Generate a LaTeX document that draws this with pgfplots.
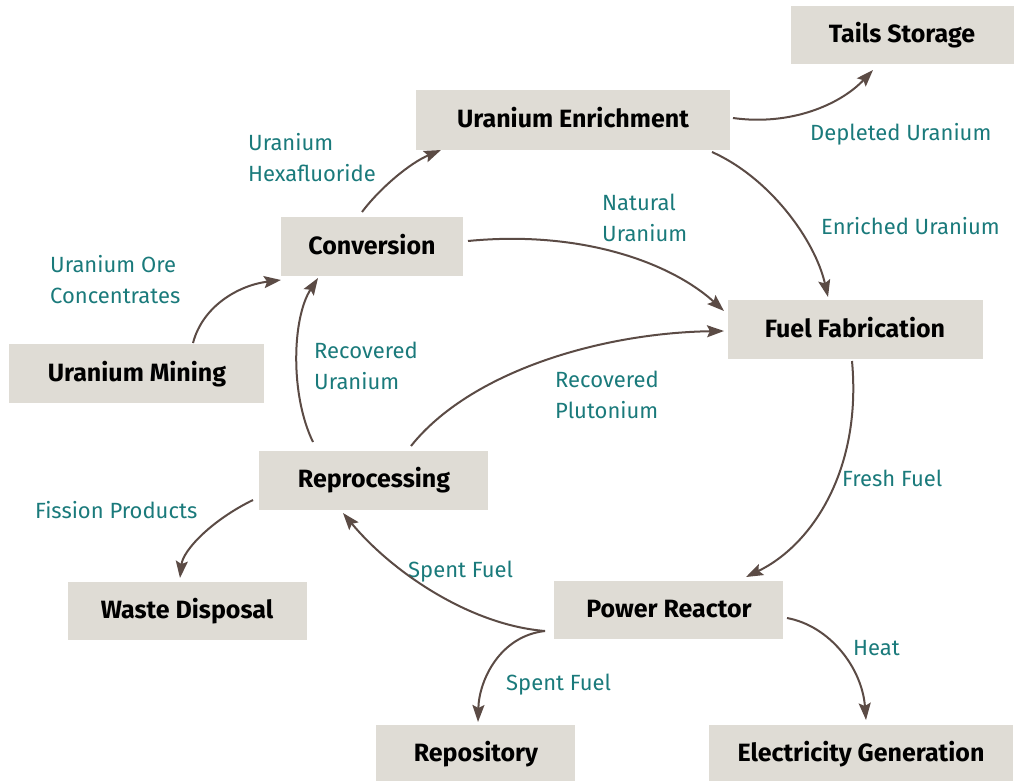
\documentclass[border=0pt]{standalone}
\usepackage{fontspec}
\setmainfont{Fira Sans}
\usepackage{pgfplots}
\pgfplotsset{compat=1.18}
\usetikzlibrary{arrows.meta}
\definecolor{boxfill}{HTML}{DFDCD5}
\definecolor{labteal}{HTML}{1A7A7B}
\definecolor{arr}{HTML}{5B4B45}
\tikzset{
  bx/.style={font=\fontsize{25}{29}\selectfont\bfseries, anchor=mid, inner sep=0pt, yshift=-5pt},
  lb/.style={font=\fontsize{22}{26}\selectfont, text=labteal, anchor=mid west, inner sep=0pt, yshift=-5pt},
  ar/.style={draw=arr, line width=2pt, -{Stealth[length=17pt,width=12pt,inset=3pt]}, arr},
}
\begin{document}
\begin{tikzpicture}
\begin{axis}[width=1014pt,height=781pt,scale only axis,
  xmin=0,xmax=1014,ymin=0,ymax=781,y dir=reverse,hide axis,clip=false]
\path (axis cs:0,0) rectangle (axis cs:1014,781);
% boxes
\fill[boxfill] (axis cs:791,6) rectangle (axis cs:1014,64);
\node[bx] at (axis cs:902,35) {Tails Storage};
\fill[boxfill] (axis cs:416,90) rectangle (axis cs:730,150);
\node[bx] at (axis cs:573,120) {Uranium Enrichment};
\fill[boxfill] (axis cs:281,217) rectangle (axis cs:463,276);
\node[bx] at (axis cs:372,247) {Conversion};
\fill[boxfill] (axis cs:728,300) rectangle (axis cs:983,359);
\node[bx] at (axis cs:855,330) {Fuel Fabrication};
\fill[boxfill] (axis cs:9,344) rectangle (axis cs:264,403);
\node[bx] at (axis cs:137,374) {Uranium Mining};
\fill[boxfill] (axis cs:259,451) rectangle (axis cs:488,510);
\node[bx] at (axis cs:374,480) {Reprocessing};
\fill[boxfill] (axis cs:68,582) rectangle (axis cs:307,640);
\node[bx] at (axis cs:187,611) {Waste Disposal};
\fill[boxfill] (axis cs:554,581) rectangle (axis cs:783,639);
\node[bx] at (axis cs:669,610) {Power Reactor};
\fill[boxfill] (axis cs:376,725) rectangle (axis cs:575,781);
\node[bx] at (axis cs:476,754) {Repository};
\fill[boxfill] (axis cs:709,725) rectangle (axis cs:1013,781);
\node[bx] at (axis cs:861,754) {Electricity Generation};
% labels
\node[lb] at (axis cs:248,143) {Uranium};
\node[lb] at (axis cs:248,174) {Hexafluoride};
\node[lb] at (axis cs:810,133) {Depleted Uranium};
\node[lb] at (axis cs:602,203) {Natural};
\node[lb] at (axis cs:602,234) {Uranium};
\node[lb] at (axis cs:821,227) {Enriched Uranium};
\node[lb] at (axis cs:50,265) {Uranium Ore};
\node[lb] at (axis cs:50,296) {Concentrates};
\node[lb] at (axis cs:314,351) {Recovered};
\node[lb] at (axis cs:314,382) {Uranium};
\node[lb] at (axis cs:555,380) {Recovered};
\node[lb] at (axis cs:555,411) {Plutonium};
\node[lb] at (axis cs:842,479) {Fresh Fuel};
\node[lb] at (axis cs:35,511) {Fission Products};
\node[lb] at (axis cs:408,570) {Spent Fuel};
\node[lb] at (axis cs:853,648) {Heat};
\node[lb] at (axis cs:506,683) {Spent Fuel};
% arrows
\draw[ar] (axis cs:193,343) .. controls (axis cs:203,305) and (axis cs:240,285) .. (axis cs:281,280);
\draw[ar] (axis cs:362,212) .. controls (axis cs:380,188) and (axis cs:410,163) .. (axis cs:441,150);
\draw[ar] (axis cs:733,118) .. controls (axis cs:790,126) and (axis cs:840,105) .. (axis cs:873,70);
\draw[ar] (axis cs:712,152) .. controls (axis cs:770,178) and (axis cs:815,240) .. (axis cs:828,297);
\draw[ar] (axis cs:468,241) .. controls (axis cs:580,230) and (axis cs:670,262) .. (axis cs:724,311);
\draw[ar] (axis cs:411,446) .. controls (axis cs:470,372) and (axis cs:600,333) .. (axis cs:724,331);
\draw[ar] (axis cs:313,442) .. controls (axis cs:290,395) and (axis cs:292,318) .. (axis cs:318,278);
\draw[ar] (axis cs:852,361) .. controls (axis cs:862,470) and (axis cs:812,545) .. (axis cs:746,577);
\draw[ar] (axis cs:545,631) .. controls (axis cs:470,625) and (axis cs:392,572) .. (axis cs:343,513);
\draw[ar] (axis cs:545,631) .. controls (axis cs:500,636) and (axis cs:479,680) .. (axis cs:478,722);
\draw[ar] (axis cs:253,500) .. controls (axis cs:212,520) and (axis cs:183,550) .. (axis cs:180,578);
\draw[ar] (axis cs:787,618) .. controls (axis cs:830,626) and (axis cs:862,668) .. (axis cs:866,720);
\end{axis}
\end{tikzpicture}
\end{document}
